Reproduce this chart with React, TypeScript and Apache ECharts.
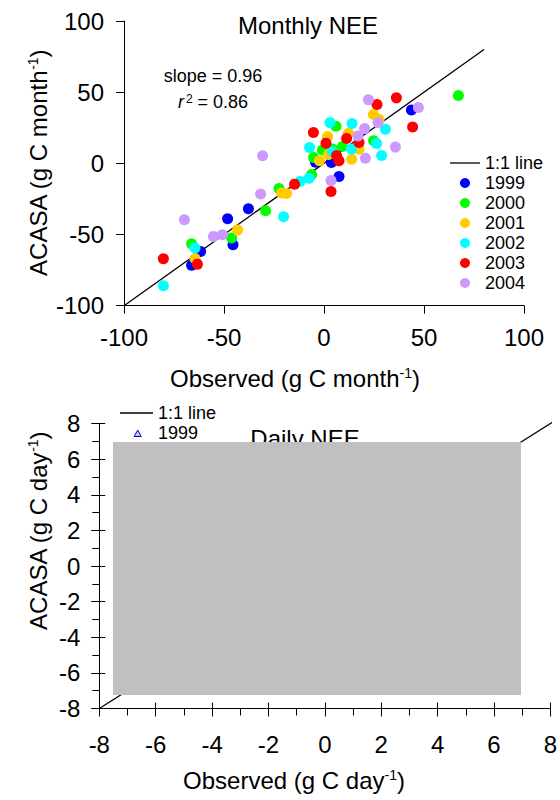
import React, { useEffect, useRef } from "react";
import * as echarts from "echarts";

const FONT = "'Liberation Sans', Arial, sans-serif";

// ---- Monthly NEE data: [observed, ACASA] (g C month-1) ----
const years = ["1999", "2000", "2001", "2002", "2003", "2004"];
const yearColors = ["#0000ff", "#00ff00", "#ffcc00", "#00ffff", "#ff0000", "#cc99ff"];

const monthly1999 = [
  [-37.8, -31.9], [-48.2, -38.9], [-45.5, -57.2], [-61.7, -61.9], [-66.2, -71.5],
  [43.7, 37.5], [3.7, 0.6], [-4.2, 0.8], [7.5, -9.3], [4.0, 1.8],
];
const monthly2000 = [
  [-22.5, -17.7], [-29.2, -33.3], [-46.2, -52.5], [-66.2, -56.5], [6.0, 26.1],
  [24.8, 15.8], [9.2, 11.8], [-0.8, 9.3], [-5.2, 4.1], [-6.2, -7.8], [67.2, 47.6], [4.2, 10.0],
];
const monthly2001 = [
  [-21.2, -20.9], [-18.7, -21.2], [-43.2, -46.9], [-64.5, -66.8], [24.7, 34.3],
  [27.5, 31.0], [1.8, 18.8], [12.2, 21.2], [17.5, 10.0], [-2.3, 1.8], [13.8, 2.9], [2.3, 6.2],
];
const monthly2002 = [
  [-20.2, -37.5], [-64.5, -59.5], [-80.3, -86.0], [3.0, 28.6], [14.0, 28.0],
  [30.7, 24.0], [26.3, 13.9], [-7.2, 11.1], [13.7, 10.0], [4.2, 8.1], [28.8, 5.5],
  [-7.5, -10.4], [-12.0, -12.7],
];
const monthly2003 = [
  [-63.3, -70.8], [-80.3, -67.0], [36.2, 46.0], [26.5, 41.3], [44.3, 25.6],
  [-5.3, 21.6], [11.3, 17.4], [17.5, 14.6], [1.0, 14.2], [6.3, 5.5], [7.5, 1.8],
  [3.5, -19.8], [-14.7, -14.6],
];
const monthly2004 = [
  [-30.7, 5.3], [-69.8, -39.6], [-31.7, -21.6], [-55.3, -51.3], [-50.8, -50.2],
  [22.2, 44.6], [47.2, 39.2], [27.0, 28.6], [20.3, 24.4], [17.0, 19.3], [35.7, 11.4],
  [20.7, 3.6], [3.5, -12.1],
];
const monthlyByYear = [monthly1999, monthly2000, monthly2001, monthly2002, monthly2003, monthly2004];

const monthlyOneToOne = [[-100, -100], [80, 80]];
const monthlyTicks = { min: -100, max: 100, interval: 50 };

// ---- Daily NEE (points hidden behind the grey box) ----
const daily1999: number[][] = [];
const dailyOneToOne = [[-8, -8], [9, 9]];
const dailyTicks = { min: -8, max: 8, interval: 2 };

const slopeText = "slope = 0.96";
const r2Value = "0.86";

function axis(grid: number, t: { min: number; max: number; interval: number }, extra: any = {}) {
  return {
    type: "value",
    gridIndex: grid,
    min: t.min,
    max: t.max,
    interval: t.interval,
    axisLine: { show: true, onZero: false, lineStyle: { color: "#000", width: 1 } },
    axisTick: { show: true, length: 8, lineStyle: { color: "#000", width: 1 } },
    axisLabel: { color: "#000", fontSize: 24, fontFamily: FONT, margin: 20 },
    splitLine: { show: false },
    ...extra,
  };
}

function innerAxis(grid: number, t: { min: number; max: number; interval: number }, position: string) {
  return {
    type: "value",
    gridIndex: grid,
    position,
    offset: 0,
    min: t.min,
    max: t.max,
    interval: t.interval,
    axisLine: { show: false, onZero: false },
    axisTick: { show: true, inside: true, length: 6, lineStyle: { color: "#000", width: 1 } },
    axisLabel: { show: false },
    splitLine: { show: false },
  };
}

const supRich = {
  n: { fontSize: 24, fontFamily: FONT, fill: "#000", color: "#000" },
  s: { fontSize: 14, fontFamily: FONT, fill: "#000", color: "#000", verticalAlign: "top" },
};

function rotatedTitle(x: number, y: number, main: string, sup: string, tail: string, rot: number) {
  return {
    type: "text",
    x,
    y,
    rotation: rot,
    z: 5,
    style: {
      text: `{n|${main}}{s|${sup}}{n|${tail}}`,
      rich: supRich,
      align: "center",
      verticalAlign: "middle",
      fill: "#000",
    },
  };
}

export default function App() {
  const ref = useRef<HTMLDivElement>(null);
  useEffect(() => {
    if (!ref.current) return;
    const chart = echarts.init(ref.current, null, { renderer: "svg" });

    const monthlySeries = years.map((y, i) => ({
      name: y,
      type: "scatter",
      xAxisIndex: 0,
      yAxisIndex: 0,
      symbol: "circle",
      symbolSize: 11,
      itemStyle: { color: yearColors[i], opacity: 1 },
      data: monthlyByYear[i],
      z: 3,
    }));

    chart.setOption({
      animation: false,
      backgroundColor: "#fff",
      textStyle: { fontFamily: FONT },
      grid: [
        { left: 124, top: 21, width: 400, height: 284.7 },
        { left: 99.3, top: 423.5, width: 453.7, height: 285 },
      ],
      xAxis: [
        axis(0, monthlyTicks, { position: "bottom" }),
        axis(1, dailyTicks, {
          position: "bottom",
          minorTick: { show: true, splitNumber: 2, length: 7, lineStyle: { color: "#000" } },
          axisLabel: { color: "#000", fontSize: 24, fontFamily: FONT, margin: 24 },
        }),
        innerAxis(1, dailyTicks, "bottom"),
      ],
      yAxis: [
        axis(0, monthlyTicks, { position: "left" }),
        axis(1, dailyTicks, {
          position: "left",
          minorTick: { show: true, splitNumber: 2, length: 7, lineStyle: { color: "#000" } },
          axisLabel: { color: "#000", fontSize: 24, fontFamily: FONT, margin: 19 },
        }),
        innerAxis(1, dailyTicks, "left"),
      ],
      legend: [
        {
          orient: "vertical",
          left: 445,
          top: 148,
          itemWidth: 30,
          itemHeight: 10,
          itemGap: 0,
          selectedMode: false,
          textStyle: { fontSize: 18, lineHeight: 20, color: "#000", fontFamily: FONT },
          data: [
            { name: "1:1 line", icon: "path://M0,0L30,0L30,1.3L0,1.3Z" },
            ...years,
          ],
        },
      ],
      series: [
        {
          name: "1:1 line",
          type: "line",
          xAxisIndex: 0,
          yAxisIndex: 0,
          symbol: "none",
          itemStyle: { color: "#000" },
          lineStyle: { color: "#000", width: 1.3 },
          data: monthlyOneToOne,
          z: 2,
        },
        ...monthlySeries,
        {
          name: "daily 1:1 line",
          type: "line",
          xAxisIndex: 1,
          yAxisIndex: 1,
          symbol: "none",
          clip: false,
          itemStyle: { color: "#000" },
          lineStyle: { color: "#000", width: 1.3 },
          data: dailyOneToOne,
          z: 2,
        },
        {
          name: "daily 1999",
          type: "scatter",
          xAxisIndex: 1,
          yAxisIndex: 1,
          symbol: "triangle",
          symbolSize: 8,
          itemStyle: { color: "#c8c8ff", borderColor: "#0000c0", borderWidth: 1 },
          data: daily1999,
        },
      ],
      graphic: [
        {
          type: "text",
          x: 308,
          y: 25,
          z: 5,
          style: { text: "Monthly NEE", fontSize: 24, fontFamily: FONT, fill: "#000", align: "center", verticalAlign: "middle" },
        },
        {
          type: "text",
          x: 213,
          y: 76,
          z: 5,
          style: { text: slopeText, fontSize: 18, fontFamily: FONT, fill: "#000", align: "center", verticalAlign: "middle" },
        },
        {
          type: "text",
          x: 213,
          y: 102,
          z: 5,
          style: {
            text: `{i|r}{s|2}{n| = ${r2Value}}`,
            rich: {
              i: { fontSize: 18, fontStyle: "italic", fontFamily: FONT, fill: "#000" },
              s: { fontSize: 12, fontFamily: FONT, fill: "#000", verticalAlign: "top", padding: [0, 0, 0, 2] },
              n: { fontSize: 18, fontFamily: FONT, fill: "#000" },
            },
            align: "center",
            verticalAlign: "middle",
          },
        },
        rotatedTitle(38, 163, "ACASA (g C month", "-1", ")", Math.PI / 2),
        rotatedTitle(295, 378, "Observed (g C month", "-1", ")", 0),
        {
          type: "text",
          x: 305,
          y: 438,
          z: 5,
          style: { text: "Daily NEE", fontSize: 24, fontFamily: FONT, fill: "#000", align: "center", verticalAlign: "middle" },
        },
        // daily legend
        {
          type: "line",
          z: 5,
          shape: { x1: 120, y1: 413, x2: 153, y2: 413 },
          style: { stroke: "#000", lineWidth: 1.3 },
        },
        {
          type: "text",
          x: 158,
          y: 413,
          z: 5,
          style: { text: "1:1 line", fontSize: 18, fontFamily: FONT, fill: "#000", align: "left", verticalAlign: "middle" },
        },
        {
          type: "polygon",
          z: 5,
          shape: { points: [[134.2, 436.5], [141.2, 436.5], [137.7, 430]] },
          style: { fill: "#c8c8ff", stroke: "#0000c0", lineWidth: 1 },
        },
        {
          type: "text",
          x: 158,
          y: 433,
          z: 5,
          style: { text: "1999", fontSize: 18, fontFamily: FONT, fill: "#000", align: "left", verticalAlign: "middle" },
        },
        rotatedTitle(38, 531, "ACASA (g C day", "-1", ")", Math.PI / 2),
        rotatedTitle(294, 780, "Observed (g C day", "-1", ")", 0),
        {
          type: "rect",
          z: 100,
          shape: { x: 113, y: 442, width: 408, height: 253 },
          style: { fill: "#c0c0c0" },
        },
      ],
    });
    return () => chart.dispose();
  }, []);
  return (
    <div
      ref={ref}
      style={{ position: "absolute", left: 0, top: 0, width: 560, height: 800 }}
    />
  );
}
